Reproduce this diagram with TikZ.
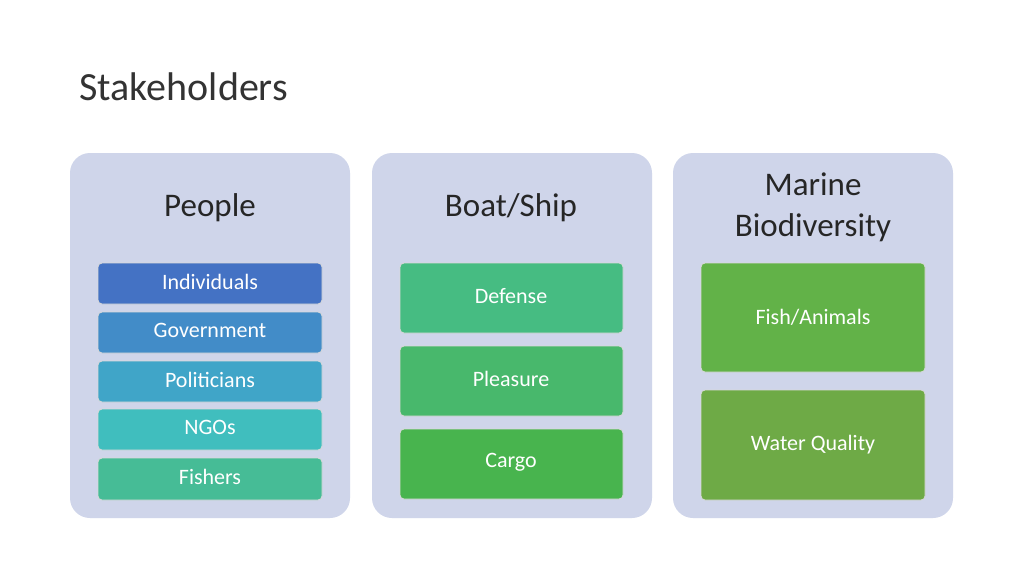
\documentclass[tikz,border=0pt]{standalone}
\usepackage{fontspec}
\setmainfont{Carlito}
\begin{document}
\begin{tikzpicture}[x=1pt,y=-1pt,
 panel/.style={fill=pan,rounded corners=20pt,draw=none},
 item/.style={draw=white!85!black,line width=0.8pt,rounded corners=4pt,text=white,font=\fontsize{22}{24}\selectfont},
 head/.style={font=\fontsize{33}{41}\selectfont,text=black!85,align=center}]
\definecolor{pan}{RGB}{207,213,234}
\definecolor{c1}{RGB}{68,114,196}\definecolor{c2}{RGB}{66,140,200}\definecolor{c3}{RGB}{64,165,200}
\definecolor{c4}{RGB}{64,190,190}\definecolor{c5}{RGB}{70,188,150}
\definecolor{d1}{RGB}{70,188,130}\definecolor{d2}{RGB}{72,184,108}\definecolor{d3}{RGB}{72,180,78}
\definecolor{m1}{RGB}{98,178,72}\definecolor{m2}{RGB}{110,170,70}
\useasboundingbox[fill=white] (0,0) rectangle (1024,576);
\node[anchor=base west,font=\fontsize{40}{48}\selectfont,text=black!80] (title) at (76,100) {Stakeholders};
\fill[panel] (70,153) rectangle (350,518);
\fill[panel] (372,153) rectangle (652,518);
\fill[panel] (673,153) rectangle (953,518);
\node[head] (hp) at (210,208) {People};
\node[head] (hb) at (511,208) {Boat/Ship};
\node[head] (hm) at (813,207) {Marine\\Biodiversity};
\foreach \n/\t/\c/\a/\b in {i1/Individuals/c1/263/304,i2/Government/c2/312/353,i3/Politicians/c3/361/402,i4/NGOs/c4/409/450,i5/Fishers/c5/458/500}{
 \draw[item,fill=\c] (98,\a) rectangle (322,\b);
 \node[text=white,font=\fontsize{22}{24}\selectfont] (\n) at (210,\a/2+\b/2-2) {\t};}
\foreach \n/\t/\c/\a/\b in {b1/Defense/d1/263/333,b2/Pleasure/d2/346/416,b3/Cargo/d3/429/499}{
 \draw[item,fill=\c] (400,\a) rectangle (623,\b);
 \node[text=white,font=\fontsize{22}{24}\selectfont] (\n) at (511,\a/2+\b/2-2) {\t};}
\foreach \n/\t/\c/\a/\b in {m1/Fish\slash Animals/m1/263/372,m2/Water Quality/m2/390/500}{
 \draw[item,fill=\c] (701,\a) rectangle (925,\b);
 \node[text=white,font=\fontsize{22}{24}\selectfont] (\n) at (813,\a/2+\b/2) {\t};}
\end{tikzpicture}
\end{document}
